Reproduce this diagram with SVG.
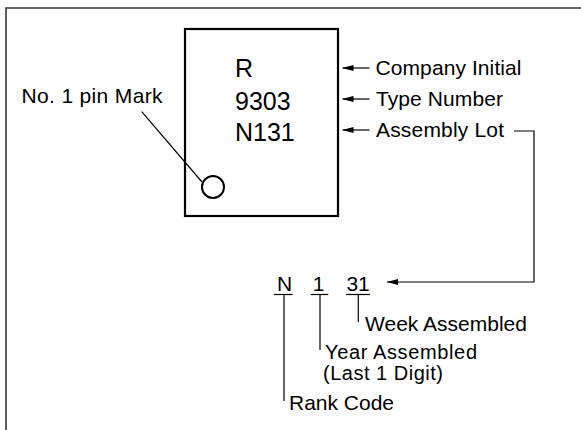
<svg xmlns="http://www.w3.org/2000/svg" width="581" height="430" viewBox="0 0 581 430">
<style>
text{font-family:"Liberation Sans",Arial,Helvetica,sans-serif;fill:#000}
.lbl{font-size:21px}
.sm{font-size:20px}
.chip{font-size:25px}
.ln{stroke:#000;stroke-width:1.2;fill:none}
</style>
<defs>
<marker id="ah" viewBox="0 0 11 6" refX="11" refY="3" markerWidth="11" markerHeight="6" markerUnits="userSpaceOnUse" orient="auto">
<path d="M0,0 L11,3 L0,6 z" fill="#000"/>
</marker>
</defs>
<rect width="581" height="430" fill="#fff"/>
<g id="frame">
<path d="M581,8 H6 V430" fill="none" stroke="#333" stroke-width="1.6"/>
</g>
<g id="chip">
<rect x="185" y="29" width="153" height="187" fill="none" stroke="#000" stroke-width="2.2"/>
<text class="chip" x="235" y="77">R</text>
<text class="chip" x="235" y="110">9303</text>
<text class="chip" x="235" y="140.5">N131</text>
<circle cx="213" cy="187" r="11" fill="none" stroke="#000" stroke-width="2"/>
</g>
<g id="pin-label">
<text class="lbl" x="21.5" y="103" textLength="141" lengthAdjust="spacing">No. 1 pin Mark</text>
</g>
<g id="company-initial"><text class="lbl" x="375.5" y="75" textLength="146" lengthAdjust="spacing">Company Initial</text></g>
<g id="type-number"><text class="lbl" x="376" y="106" textLength="127" lengthAdjust="spacing">Type Number</text></g>
<g id="assembly-lot"><text class="lbl" x="376" y="137" textLength="128" lengthAdjust="spacing">Assembly Lot</text></g>
<g id="lot-code">
<text class="lbl" x="277" y="291">N</text>
<text class="lbl" x="312.7" y="291">1</text>
<text class="lbl" x="346.4" y="291">31</text>
</g>
<g id="week"><text class="lbl" x="365" y="330.5" textLength="162" lengthAdjust="spacing">Week Assembled</text></g>
<g id="year">
<text class="sm" x="325" y="359" textLength="152" lengthAdjust="spacing">Year Assembled</text>
<text class="sm" x="323" y="379.5" textLength="120" lengthAdjust="spacing">(Last 1 Digit)</text>
</g>
<g id="rank"><text class="lbl" x="289" y="409.5" textLength="105" lengthAdjust="spacing">Rank Code</text></g>
<g id="connectors" class="ln">
<line x1="141.7" y1="111.7" x2="202" y2="182"/>
<line x1="369.5" y1="68" x2="342.5" y2="68" marker-end="url(#ah)"/>
<line x1="369.5" y1="99" x2="342.5" y2="99" marker-end="url(#ah)"/>
<line x1="369.5" y1="130" x2="342.5" y2="130" marker-end="url(#ah)"/>
<polyline points="514,131 534,131 534,282 387,282" marker-end="url(#ah)"/>
<line x1="274" y1="294.5" x2="292.7" y2="294.5"/>
<line x1="310.7" y1="294.5" x2="328.3" y2="294.5"/>
<line x1="346" y1="294.5" x2="370" y2="294.5"/>
<line x1="284" y1="294.5" x2="284" y2="401"/>
<line x1="320" y1="294.5" x2="320" y2="350"/>
<line x1="358.3" y1="294.5" x2="358.3" y2="322"/>
</g>
</svg>
